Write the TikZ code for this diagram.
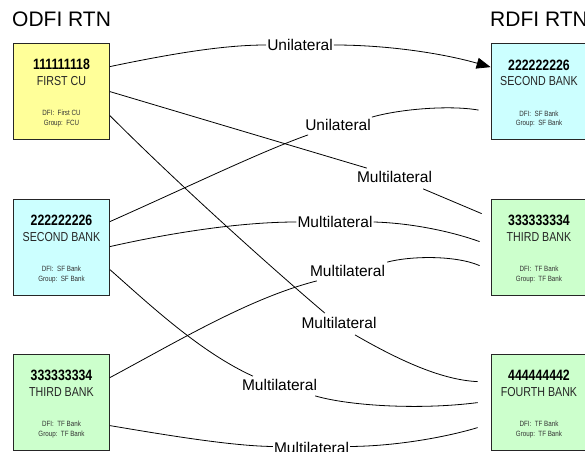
\documentclass[tikz,border=0pt]{standalone}
\usepackage{fontspec}
\setmainfont{Liberation Sans}
\newfontfamily\narrowfont[FakeStretch=0.82]{Liberation Sans}
\usetikzlibrary{arrows.meta}
\definecolor{cuyellow}{HTML}{FFFF99}
\definecolor{sfcyan}{HTML}{CCFFFF}
\definecolor{tfgreen}{HTML}{CCFFCC}
\newcommand\bankbox[8]{%
  \node[bank, fill=#4] (#1) at (#2,#3) {};
  \node[numtext] (#1-num) at ([shift={(0,27)}]#1.north) {#5};
  \node[nametext] (#1-name) at ([shift={(0,42.7)}]#1.north) {#6};
  \node[smalltext] (#1-dfi) at ([shift={(0,73)}]#1.north) {DFI:~~#7};
  \node[smalltext] (#1-grp) at ([shift={(0,82.5)}]#1.north) {Group:~~#8};
}
\begin{document}
\begin{tikzpicture}[x=1bp,y=-1bp,
  bank/.style={draw=black!85, line width=0.8bp, minimum width=96bp, minimum height=96bp, inner sep=0},
  numtext/.style={font=\narrowfont\bfseries\fontsize{15bp}{18bp}\selectfont, anchor=base, inner sep=0, text=black},
  nametext/.style={font=\narrowfont\fontsize{13bp}{15bp}\selectfont, anchor=base, inner sep=0, text=black!85},
  smalltext/.style={font=\narrowfont\fontsize{7.6bp}{9bp}\selectfont, anchor=base, inner sep=0, text=black!80},
  title/.style={font=\fontsize{21bp}{24bp}\selectfont, anchor=west, inner sep=0},
  lab/.style={font=\fontsize{15.5bp}{18bp}\selectfont, inner sep=0},
  conn/.style={draw=black, line width=0.8bp}
]
\useasboundingbox (0,0) rectangle (585,452);
\clip (0,0) rectangle (585,452);

\node[title] (odfi) at (12,19.5) {ODFI RTN};
\node[title] (rdfi) at (490,19.5) {RDFI RTN};

\bankbox{fcu}{61.5}{91}{cuyellow}{111111118}{FIRST CU}{First CU}{FCU}
\bankbox{lsb}{61.5}{247}{sfcyan}{222222226}{SECOND BANK}{SF Bank}{SF Bank}
\bankbox{ltb}{61.5}{402}{tfgreen}{333333334}{THIRD BANK}{TF Bank}{TF Bank}
\bankbox{rsb}{539}{91.5}{sfcyan}{222222226}{SECOND BANK}{SF Bank}{SF Bank}
\bankbox{rtb}{539}{247}{tfgreen}{333333334}{THIRD BANK}{TF Bank}{TF Bank}
\bankbox{rfb}{539}{402}{tfgreen}{444444442}{FOURTH BANK}{TF Bank}{TF Bank}

\node[lab] (U1) at (300,44.5) {Unilateral};
\node[lab] (U2) at (338,125) {Unilateral};
\node[lab] (M1) at (394.5,177) {Multilateral};
\node[lab] (M2) at (335,222) {Multilateral};
\node[lab] (M3) at (347.5,271) {Multilateral};
\node[lab] (M4) at (339,323) {Multilateral};
\node[lab] (M5) at (279.5,385) {Multilateral};
\node[lab] (M6) at (311.5,447.5) {Multilateral};

% FIRST CU -> SECOND BANK (Unilateral)
\path[conn] ([shift={(0,24)}]fcu.north east) .. controls (175,53) and (225,45) .. ([shift={(-1,0.5)}]U1.west);
\path[conn,-{Triangle[length=14bp,width=11bp]}] ([shift={(1,0.5)}]U1.east) .. controls (390,45) and (445,54) .. ([shift={(0,24)}]rsb.north west);
% SECOND BANK <-> SECOND BANK (Unilateral)
\path[conn] ([shift={(0,23)}]lsb.north east) .. controls (190,186) and (260,152) .. ([shift={(3,4)}]U2.south west);
\path[conn] ([shift={(1,-2)}]U2.north east) .. controls (400,109) and (450,105) .. ([shift={(-12,67)}]rsb.north west);
% FIRST CU -> THIRD BANK
\path[conn] ([shift={(0,49)}]fcu.north east) -- ([shift={(10,-3)}]M1.north west);
\path[conn] ([shift={(-9,6)}]M1.south east) -- ([shift={(-9,15)}]rtb.north west);
% SECOND BANK -> THIRD BANK
\path[conn] ([shift={(0,48)}]lsb.north east) .. controls (170,233) and (240,222) .. ([shift={(-1,0)}]M2.west);
\path[conn] ([shift={(1,0)}]M2.east) .. controls (410,223) and (450,231) .. ([shift={(-11,43)}]rtb.north west);
% THIRD BANK -> THIRD BANK
\path[conn] ([shift={(0,24)}]ltb.north east) .. controls (180,340) and (250,298) .. ([shift={(7,4)}]M3.south west);
\path[conn] ([shift={(2,-3)}]M3.north east) .. controls (410,256) and (455,255) .. ([shift={(-11,67)}]rtb.north west);
% FIRST CU -> FOURTH BANK
\path[conn] ([shift={(0,73)}]fcu.north east) .. controls (170,176) and (260,258) .. ([shift={(23.5,-4)}]M4.north west);
\path[conn] ([shift={(16,6)}]M4.south) .. controls (395,358) and (440,380) .. ([shift={(-13,28)}]rfb.north west);
% SECOND BANK -> FOURTH BANK
\path[conn] ([shift={(0,71)}]lsb.north east) .. controls (150,305) and (200,352) .. ([shift={(11,-3)}]M5.north west);
\path[conn] ([shift={(-2,5)}]M5.south east) .. controls (350,406) and (420,410) .. ([shift={(-13,49)}]rfb.north west);
% THIRD BANK -> FOURTH BANK
\path[conn] ([shift={(0,72)}]ltb.north east) .. controls (160,434) and (230,446) .. ([shift={(-1,-1)}]M6.west);
\path[conn] ([shift={(1,-1)}]M6.east) .. controls (400,446) and (450,436) .. ([shift={(-13,74)}]rfb.north west);
\end{tikzpicture}
\end{document}
